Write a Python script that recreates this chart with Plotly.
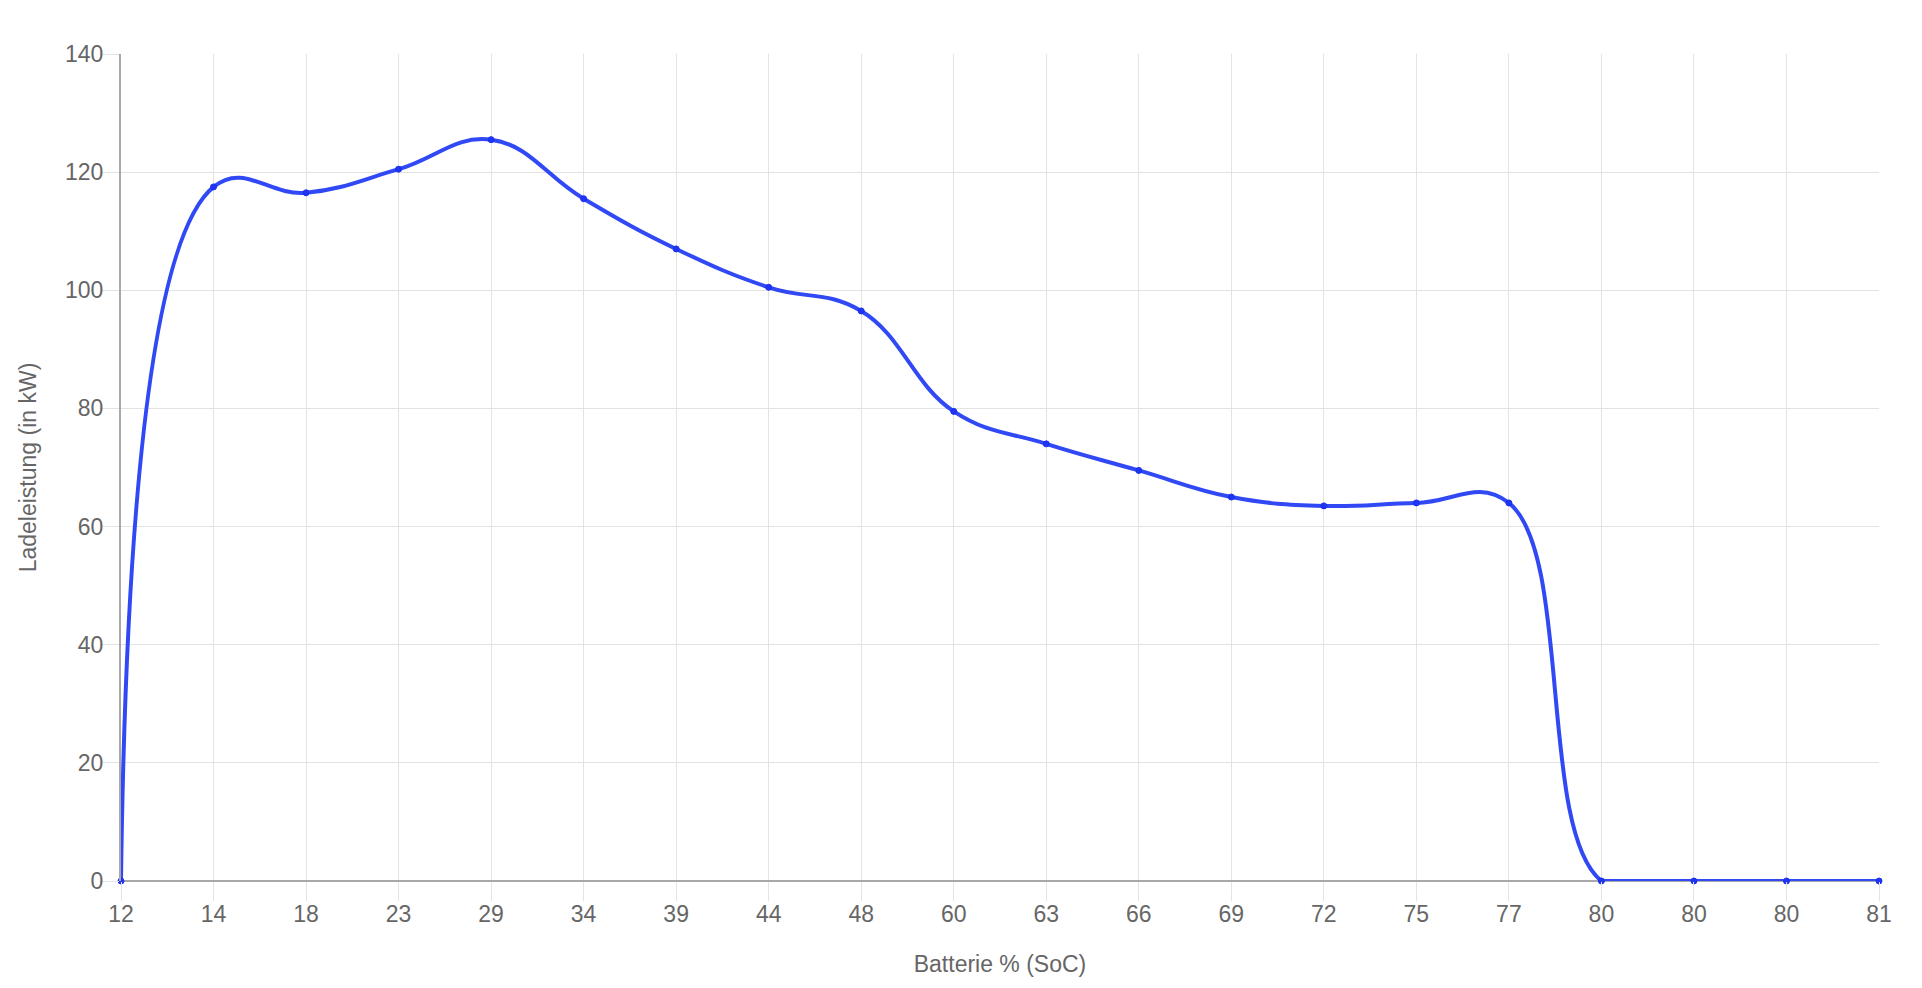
import plotly.graph_objects as go

soc_labels = ["12", "14", "18", "23", "29", "34", "39", "44", "48", "60",
              "63", "66", "69", "72", "75", "77", "80", "80", "80", "81"]
power_kw = [0, 117.5, 116.5, 120.5, 125.5, 115.5, 107, 100.5, 96.5, 79.5,
            74, 69.5, 65, 63.5, 64, 64, 0, 0, 0, 0]
y_ticks = [0, 20, 40, 60, 80, 100, 120, 140]

idx = list(range(len(soc_labels)))
LINE = "#3049f5"
FONT = "Liberation Sans, Arial, Helvetica, sans-serif"
GRID = "#e3e3e3"
AXIS = "#a8a8a8"
TXT = "#666666"
FS = 23

fig = go.Figure()
# smooth curve over all points (clipped to plot area)
fig.add_trace(go.Scatter(
    x=idx, y=power_kw, mode="lines",
    line=dict(color=LINE, width=4, shape="spline", smoothing=1.2),
    cliponaxis=True, showlegend=False, hoverinfo="skip"))
# flat tail drawn unclipped on the zero line
fig.add_trace(go.Scatter(
    x=idx[16:], y=power_kw[16:], mode="lines",
    line=dict(color=LINE, width=4),
    cliponaxis=False, showlegend=False, hoverinfo="skip"))
# point markers
fig.add_trace(go.Scatter(
    x=idx, y=power_kw, mode="markers",
    marker=dict(size=6, color="#2034f2", line=dict(color="#1a30f0", width=1)),
    cliponaxis=False, showlegend=False, hoverinfo="x+y"))

fig.update_layout(
    width=1906, height=972,
    margin=dict(l=113, r=35, t=46, b=99),
    paper_bgcolor="white", plot_bgcolor="white",
    font=dict(family=FONT, color=TXT, size=FS),
)
fig.update_xaxes(
    range=[0, len(soc_labels) - 1], automargin=False,
    tickmode="array", tickvals=idx, ticktext=soc_labels,
    showgrid=True, gridcolor=GRID, gridwidth=1.3,
    ticks="outside", ticklen=19, tickcolor=GRID, tickwidth=1.3,
    ticklabelstandoff=-7,
    showline=False, zeroline=False,
    tickfont=dict(size=FS, color=TXT),
    title=dict(text="Batterie % (SoC)", font=dict(size=FS, color=TXT), standoff=30),
)
fig.update_yaxes(
    range=[0, 140], automargin=False,
    tickmode="array", tickvals=y_ticks,
    showgrid=True, gridcolor=GRID, gridwidth=1.3,
    ticks="outside", ticklen=19, tickcolor=GRID, tickwidth=1.3,
    ticklabelstandoff=-8,
    showline=True, linecolor=AXIS, linewidth=2,
    zeroline=True, zerolinecolor=AXIS, zerolinewidth=2,
    tickfont=dict(size=FS, color=TXT),
    title=dict(text="Ladeleistung (in kW)", font=dict(size=FS, color=TXT), standoff=22),
)

fig.write_html("out.html")
